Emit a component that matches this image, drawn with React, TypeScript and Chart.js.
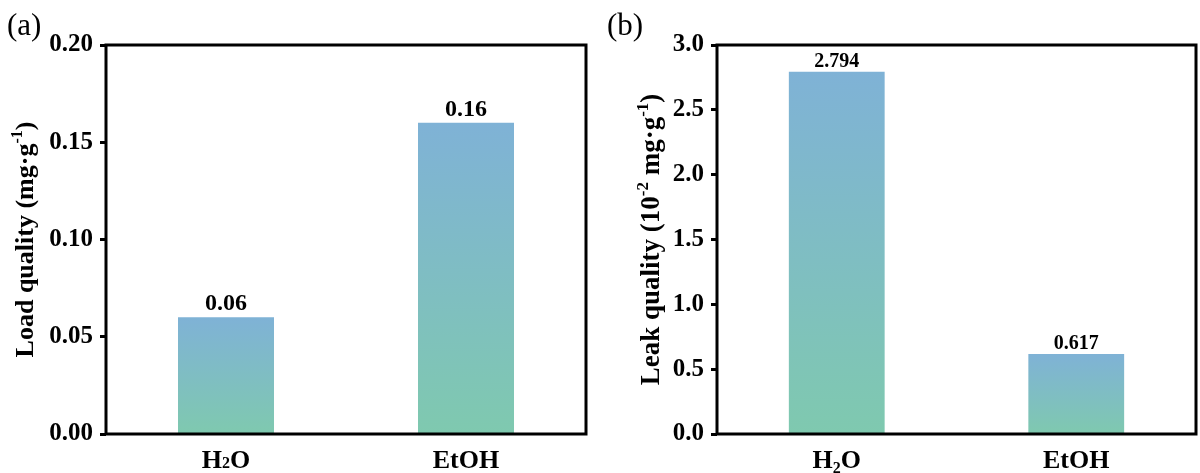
import React, { useEffect, useRef } from "react";
import { Chart, registerables } from "chart.js";

Chart.register(...registerables);

// ---- data ----
const categories = ["H2O", "EtOH"];
const loadValues = [0.06, 0.16];
const loadValueLabels = ["0.06", "0.16"];
const leakValues = [2.794, 0.617];
const leakValueLabels = ["2.794", "0.617"];
const loadTicks = { min: 0, max: 0.2, step: 0.05, decimals: 2 };
const leakTicks = { min: 0, max: 3.0, step: 0.5, decimals: 1 };
const loadTitle = [
  { t: "Load quality (mg·g" },
  { t: "-1", sup: true },
  { t: ")" },
];
const leakTitle = [
  { t: "Leak quality (10" },
  { t: "-2", sup: true },
  { t: " mg·g" },
  { t: "-1", sup: true },
  { t: ")" },
];

const FAMILY = '"Liberation Serif", "Times New Roman", serif';
const TOP_COLOR = "rgb(127,178,214)";
const BOTTOM_COLOR = "rgb(127,201,175)";

type Seg = { t: string; sup?: boolean; sub?: boolean; small?: boolean };

function drawRich(
  ctx: CanvasRenderingContext2D,
  segs: Seg[],
  size: number,
  cx: number,
  cy: number
) {
  const fontFor = (s: Seg) =>
    `bold ${s.sup || s.sub || s.small ? Math.round(size * 0.62) : size}px ${FAMILY}`;
  let total = 0;
  const widths = segs.map((s) => {
    ctx.font = fontFor(s);
    const w = ctx.measureText(s.t).width;
    total += w;
    return w;
  });
  let x = cx - total / 2;
  ctx.textBaseline = "alphabetic";
  ctx.textAlign = "left";
  const baseY = cy + size * 0.33;
  segs.forEach((s, i) => {
    ctx.font = fontFor(s);
    let y = baseY;
    if (s.sup) y = baseY - size * 0.42;
    if (s.sub) y = baseY + size * 0.22;
    ctx.fillText(s.t, x, y);
    x += widths[i];
  });
}

function labelSegs(label: string, realSub: boolean): Seg[] {
  const segs: Seg[] = [];
  for (const ch of label) {
    if (/[0-9]/.test(ch)) segs.push(realSub ? { t: ch, sub: true } : { t: ch, small: true });
    else segs.push({ t: ch });
  }
  return segs;
}

function makeConfig(opts: {
  values: number[];
  valueLabels: string[];
  ticks: { min: number; max: number; step: number; decimals: number };
  title: Seg[];
  titleSize: number;
  panel: string;
  axisWidth: number;
  padRight: number;
  titleX: number;
  valueFont: number;
  valueGap: number;
  realSub: boolean;
}) {
  const overlay = {
    id: "overlay",
    afterDraw(chart: any) {
      const { ctx, chartArea } = chart;
      const xs = chart.scales.x;
      const ys = chart.scales.y;
      ctx.save();
      // frame
      ctx.strokeStyle = "#000";
      ctx.lineWidth = 3;
      ctx.strokeRect(
        chartArea.left,
        chartArea.top,
        chartArea.right - chartArea.left,
        chartArea.bottom - chartArea.top
      );
      ctx.fillStyle = "#000";
      // value labels
      opts.values.forEach((v, i) => {
        const x = xs.getPixelForValue(i);
        const y = ys.getPixelForValue(v);
        ctx.font = `bold ${opts.valueFont}px ${FAMILY}`;
        ctx.textAlign = "center";
        ctx.textBaseline = "alphabetic";
        ctx.fillText(opts.valueLabels[i], x, y - opts.valueGap);
      });
      // category labels
      categories.forEach((c, i) => {
        const x = xs.getPixelForValue(i);
        drawRich(ctx, labelSegs(c, opts.realSub), 26, x, chartArea.bottom + 25);
      });
      // y title
      ctx.save();
      ctx.translate(opts.titleX, (chartArea.top + chartArea.bottom) / 2);
      ctx.rotate(-Math.PI / 2);
      drawRich(ctx, opts.title, opts.titleSize, 0, 0);
      ctx.restore();
      // panel label
      ctx.font = `31px ${FAMILY}`;
      ctx.textAlign = "left";
      ctx.textBaseline = "alphabetic";
      ctx.fillText(opts.panel, 7, 35);
      ctx.restore();
    },
  };

  return {
    type: "bar" as const,
    data: {
      labels: categories,
      datasets: [
        {
          data: opts.values,
          barPercentage: 0.4,
          categoryPercentage: 1.0,
          backgroundColor: (c: any) => {
            const chart = c.chart;
            const ys = chart.scales?.y;
            if (!chart.chartArea || !ys || c.type !== "data") return TOP_COLOR;
            const top = ys.getPixelForValue(c.raw);
            const base = ys.getPixelForValue(0);
            const g = chart.ctx.createLinearGradient(0, top, 0, base);
            g.addColorStop(0, TOP_COLOR);
            g.addColorStop(1, BOTTOM_COLOR);
            return g;
          },
          borderWidth: 0,
        },
      ],
    },
    options: {
      animation: false,
      responsive: false,
      maintainAspectRatio: false,
      layout: { padding: { top: 45, right: opts.padRight, left: 0, bottom: 0 } },
      plugins: { legend: { display: false }, tooltip: { enabled: false } },
      scales: {
        x: {
          grid: { display: false },
          border: { display: false },
          ticks: { display: false },
          afterFit: (s: any) => {
            s.height = 39;
          },
        },
        y: {
          min: opts.ticks.min,
          max: opts.ticks.max,
          grid: {
            drawOnChartArea: false,
            drawTicks: true,
            tickLength: 6,
            tickWidth: 3,
            tickColor: "#000",
            color: "#000",
          },
          border: { display: false },
          ticks: {
            stepSize: opts.ticks.step,
            padding: 7,
            color: "#000",
            font: { family: FAMILY, size: 25, weight: "bold" },
            callback: (v: any) => Number(v).toFixed(opts.ticks.decimals),
          },
          afterFit: (s: any) => {
            s.width = opts.axisWidth;
          },
        },
      },
    },
    plugins: [overlay],
  };
}

function Panel(props: { cfg: any; left: number }) {
  const ref = useRef<HTMLCanvasElement | null>(null);
  useEffect(() => {
    if (!ref.current) return;
    const chart = new Chart(ref.current, props.cfg);
    return () => chart.destroy();
  }, []);
  return (
    <canvas
      ref={ref}
      width={600}
      height={473}
      style={{ position: "absolute", left: props.left, top: 0, width: 600, height: 473 }}
    />
  );
}

export default function App() {
  const left = makeConfig({
    values: loadValues,
    valueLabels: loadValueLabels,
    ticks: loadTicks,
    title: loadTitle,
    titleSize: 26,
    panel: "(a)",
    axisWidth: 106,
    padRight: 14,
    titleX: 24,
    valueFont: 24,
    valueGap: 7,
    realSub: false,
  });
  const right = makeConfig({
    values: leakValues,
    valueLabels: leakValueLabels,
    ticks: leakTicks,
    title: leakTitle,
    titleSize: 27,
    panel: "(b)",
    axisWidth: 117,
    padRight: 4,
    titleX: 50,
    valueFont: 20,
    valueGap: 5,
    realSub: true,
  });
  return (
    <div style={{ position: "absolute", left: 0, top: 0, width: 1200, height: 473, background: "#fff" }}>
      <Panel cfg={left} left={0} />
      <Panel cfg={right} left={600} />
    </div>
  );
}
